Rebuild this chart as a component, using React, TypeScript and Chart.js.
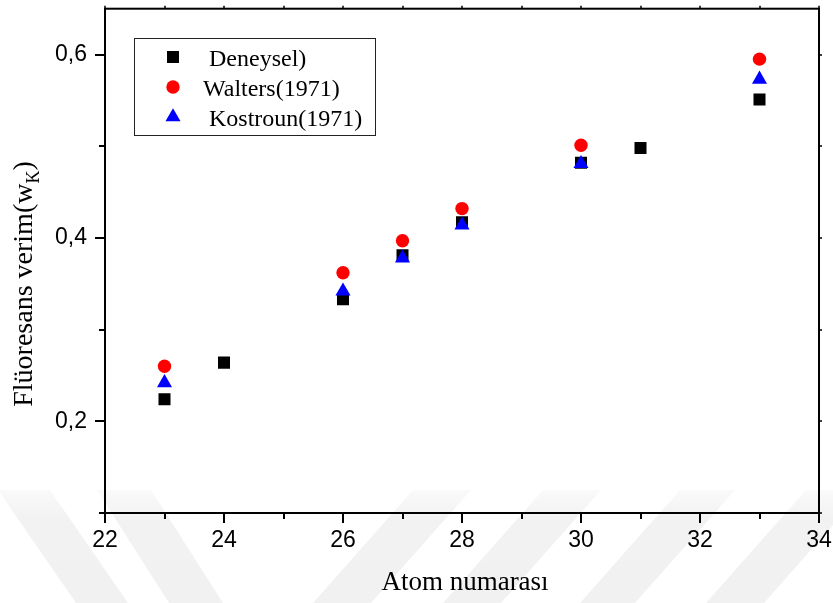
import React, { useEffect, useRef } from "react";
import { Chart, registerables } from "chart.js";

Chart.register(...registerables);

// ---- data ----
const ATOMS_EXP = [23, 24, 26, 27, 28, 30, 31, 33];
const DENEYSEL = [0.224, 0.264, 0.333, 0.381, 0.417, 0.482, 0.498, 0.551];
const ATOMS_THEORY = [23, 26, 27, 28, 30, 33];
const WALTERS = [0.26, 0.362, 0.397, 0.432, 0.501, 0.595];
const KOSTROUN = [0.242, 0.342, 0.378, 0.414, 0.481, 0.573];
const SERIES_LABELS = [" Deneysel)", "Walters(1971)", " Kostroun(1971)"];
const X_TICKS = [22, 24, 26, 28, 30, 32, 34];
const X_MINOR = [23, 25, 27, 29, 31, 33];
const Y_TICKS = [0.2, 0.4, 0.6];
const Y_MINOR = [0.1, 0.3, 0.5];
const X_TITLE = "Atom numarası";
const Y_TITLE_MAIN = "Flüoresans verim(w";
const Y_TITLE_SUB = "K";
const Y_TITLE_END = ")";

const SERIF = "'Liberation Serif', 'Times New Roman', serif";
const SANS = "'Liberation Sans', Arial, sans-serif";

function drawMarker(ctx: CanvasRenderingContext2D, style: string, x: number, y: number, r: number, color: string) {
  ctx.fillStyle = color;
  ctx.beginPath();
  if (style === "rect") {
    const s = Math.SQRT1_2 * r;
    ctx.rect(x - s, y - s, 2 * s, 2 * s);
  } else if (style === "circle") {
    ctx.arc(x, y, r, 0, Math.PI * 2);
  } else {
    ctx.moveTo(x, y - r);
    ctx.lineTo(x + 0.866 * r, y + 0.5 * r);
    ctx.lineTo(x - 0.866 * r, y + 0.5 * r);
    ctx.closePath();
  }
  ctx.fill();
}

const watermarkPlugin = {
  id: "watermark",
  beforeDraw(chart: any) {
    const { ctx } = chart;
    ctx.save();
    const top = 490;
    const bot = 603;
    const grad = ctx.createLinearGradient(0, top, 0, bot);
    grad.addColorStop(0, "rgba(0,0,0,0.02)");
    grad.addColorStop(0.25, "rgba(0,0,0,0.05)");
    grad.addColorStop(1, "rgba(0,0,0,0.055)");
    ctx.fillStyle = grad;
    const stripes: [number, number, number][] = [
      // [topLeftX, width, dx over the height]
      [-2, 52, 78],
      [97, 54, 72],
      [413, 58, -100],
      [543, 58, -100],
      [680, 55, -100],
      [806, 58, -100],
    ];
    stripes.forEach(([x0, w, dx]) => {
      ctx.beginPath();
      ctx.moveTo(x0, top);
      ctx.lineTo(x0 + w, top);
      ctx.lineTo(x0 + w + dx, bot);
      ctx.lineTo(x0 + dx, bot);
      ctx.closePath();
      ctx.fill();
    });
    ctx.restore();
  },
};

const framePlugin = {
  id: "frame",
  afterDraw(chart: any) {
    const { ctx, chartArea: a, scales } = chart;
    const xs = scales.x;
    const ys = scales.y;
    ctx.save();
    ctx.strokeStyle = "#000";
    ctx.lineWidth = 2;
    ctx.strokeRect(a.left, a.top, a.right - a.left, a.bottom - a.top);
    ctx.beginPath();
    // bottom ticks (outward)
    X_TICKS.forEach((v) => {
      const px = Math.round(xs.getPixelForValue(v));
      ctx.moveTo(px, a.bottom);
      ctx.lineTo(px, a.bottom + 10);
    });
    X_MINOR.forEach((v) => {
      const px = Math.round(xs.getPixelForValue(v));
      ctx.moveTo(px, a.bottom);
      ctx.lineTo(px, a.bottom + 6);
    });
    // left ticks (outward)
    Y_TICKS.forEach((v) => {
      const py = Math.round(ys.getPixelForValue(v));
      ctx.moveTo(a.left, py);
      ctx.lineTo(a.left - 10, py);
    });
    Y_MINOR.forEach((v) => {
      const py = Math.round(ys.getPixelForValue(v));
      ctx.moveTo(a.left, py);
      ctx.lineTo(a.left - 6, py);
    });
    ctx.stroke();
    // top & right small ticks
    ctx.beginPath();
    ctx.lineWidth = 1.5;
    [...X_TICKS, ...X_MINOR].forEach((v) => {
      const px = Math.round(xs.getPixelForValue(v));
      ctx.moveTo(px, a.top);
      ctx.lineTo(px, a.top - 3);
    });
    [...Y_TICKS, ...Y_MINOR].forEach((v) => {
      const py = Math.round(ys.getPixelForValue(v));
      ctx.moveTo(a.right, py);
      ctx.lineTo(a.right + 3, py);
    });
    ctx.stroke();

    // axis titles
    ctx.fillStyle = "#000";
    ctx.textBaseline = "alphabetic";
    ctx.textAlign = "center";
    ctx.font = `27px ${SERIF}`;
    ctx.fillText(X_TITLE, 465, 590);

    ctx.save();
    ctx.translate(32, 284);
    ctx.rotate(-Math.PI / 2);
    ctx.textAlign = "left";
    const mainFont = `28px ${SERIF}`;
    const subFont = `18px ${SERIF}`;
    ctx.font = mainFont;
    const w1 = ctx.measureText(Y_TITLE_MAIN).width;
    const w3 = ctx.measureText(Y_TITLE_END).width;
    ctx.font = subFont;
    const w2 = ctx.measureText(Y_TITLE_SUB).width;
    let sx = -(w1 + w2 + w3) / 2;
    ctx.font = mainFont;
    ctx.fillText(Y_TITLE_MAIN, sx, 0);
    sx += w1;
    ctx.font = subFont;
    ctx.fillText(Y_TITLE_SUB, sx, 7);
    sx += w2;
    ctx.font = mainFont;
    ctx.fillText(Y_TITLE_END, sx, 0);
    ctx.restore();

    // legend
    ctx.lineWidth = 1;
    ctx.strokeStyle = "#222";
    ctx.strokeRect(134.5, 38.5, 241, 97);
    ctx.font = `24px ${SERIF}`;
    ctx.textAlign = "left";
    chart.data.datasets.forEach((ds: any, i: number) => {
      const cy = 57 + i * 30;
      drawMarker(ctx, ds.pointStyle, 173, cy, ds.pointRadius, ds.backgroundColor);
      ctx.fillStyle = "#000";
      ctx.fillText(ds.label, 203, cy + 9);
    });
    ctx.restore();
  },
};

function zeroPad(s: any) {
  s.paddingTop = 0;
  s.paddingBottom = 0;
  s.paddingLeft = 0;
  s.paddingRight = 0;
}

export default function App() {
  const ref = useRef<HTMLCanvasElement>(null);
  useEffect(() => {
    const toPts = (xs: number[], ys: number[]) => xs.map((x, i) => ({ x, y: ys[i] }));
    const chart = new Chart(ref.current!, {
      type: "scatter",
      data: {
        datasets: [
          {
            label: SERIES_LABELS[0],
            data: toPts(ATOMS_EXP, DENEYSEL),
            pointStyle: "rect",
            pointRadius: 8.5,
            pointHoverRadius: 8.5,
            backgroundColor: "#000000",
            borderWidth: 0,
            order: 3,
          },
          {
            label: SERIES_LABELS[1],
            data: toPts(ATOMS_THEORY, WALTERS),
            pointStyle: "circle",
            pointRadius: 6.7,
            pointHoverRadius: 6.7,
            backgroundColor: "#ff0000",
            borderWidth: 0,
            order: 2,
          },
          {
            label: SERIES_LABELS[2],
            data: toPts(ATOMS_THEORY, KOSTROUN),
            pointStyle: "triangle",
            pointRadius: 8.7,
            pointHoverRadius: 8.7,
            backgroundColor: "#0000ff",
            borderWidth: 0,
            order: 1,
          },
        ] as any,
      },
      options: {
        animation: false,
        responsive: false,
        devicePixelRatio: 1,
        layout: { padding: { left: 0, right: 14, top: 5, bottom: 0 } },
        plugins: { legend: { display: false }, tooltip: { enabled: false } },
        scales: {
          x: {
            type: "linear",
            min: 22,
            max: 34,
            grid: { display: false, drawTicks: false },
            border: { display: false },
            afterBuildTicks: (s: any) => {
              s.ticks = X_TICKS.map((v) => ({ value: v }));
            },
            afterFit: (s: any) => {
              s.height = 90;
              zeroPad(s);
            },
            ticks: {
              autoSkip: false,
              maxRotation: 0,
              padding: 14,
              color: "#000",
              font: { family: SANS, size: 23 },
              callback: (v: any) => String(v),
            },
          },
          y: {
            type: "linear",
            min: 0.1,
            max: 0.65,
            grid: { display: false, drawTicks: false },
            border: { display: false },
            afterBuildTicks: (s: any) => {
              s.ticks = Y_TICKS.map((v) => ({ value: v }));
            },
            afterFit: (s: any) => {
              s.width = 105;
              zeroPad(s);
            },
            ticks: {
              autoSkip: false,
              padding: 18,
              color: "#000",
              font: { family: SANS, size: 23 },
              callback: (v: any) => Number(v).toFixed(1).replace(".", ","),
            },
          },
        },
      } as any,
      plugins: [watermarkPlugin, framePlugin],
    });
    return () => chart.destroy();
  }, []);
  return (
    <div style={{ position: "absolute", left: 0, top: 0, width: 833, height: 603, background: "#fff" }}>
      <canvas ref={ref} width={833} height={603} style={{ display: "block", width: 833, height: 603 }} />
    </div>
  );
}
